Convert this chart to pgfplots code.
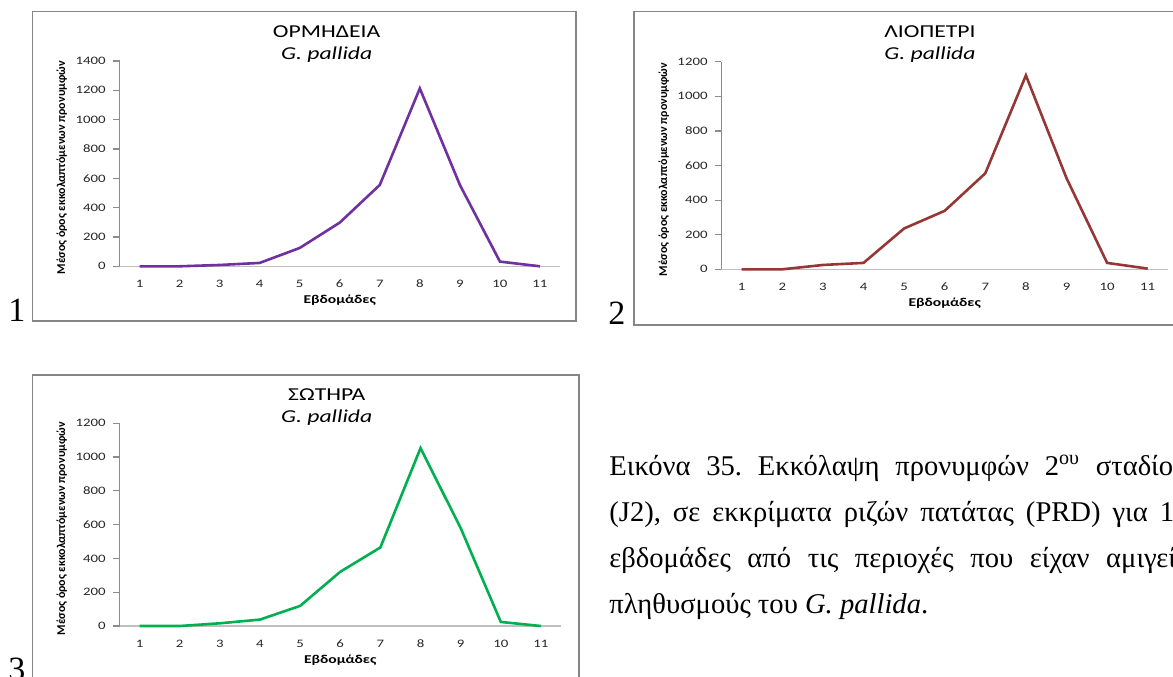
\documentclass[border=0pt]{standalone}
\usepackage{fontspec}
\setmainfont{Liberation Serif}
\newfontfamily\chartfont[FakeStretch=1.3]{Carlito}
\newfontfamily\chartfontns{Carlito}
\usepackage{pgfplots}
\pgfplotsset{compat=1.18}
\frenchspacing
\definecolor{framegray}{HTML}{868686}
\definecolor{ygray}{HTML}{8C8C8C}
\definecolor{xgray}{HTML}{BFBFBF}
\definecolor{cpurple}{HTML}{7030A0}
\definecolor{cred}{HTML}{953735}
\definecolor{cgreen}{HTML}{00B050}
\pgfplotsset{excel/.style={
  scale only axis, anchor=south west,
  xmin=0.5, xmax=11.5, ymin=0,
  axis x line*=bottom, axis y line*=left,
  x axis line style={draw=xgray, line width=0.6pt},
  y axis line style={draw=ygray, line width=0.6pt},
  xtick={1,...,11},
  xtick style={draw=none},
  ytick style={draw=ygray, line width=0.6pt},
  tick align=outside, major tick length=3.4pt,
  ticklabel style={font=\chartfont\fontsize{5.7}{6}\selectfont, text=black!85},
  /pgf/number format/assume math mode=true,
  /pgf/number format/set thousands separator={},
  xlabel={Εβδομάδες},
  ylabel={Μέσος όρος εκκολαπτόμενων προνυμφών},
  every axis x label/.style={at={(axis description cs:0.5,0)}, anchor=center, yshift=-17pt, font=\chartfont\bfseries\fontsize{6}{7}\selectfont},
  every axis y label/.style={at={(axis description cs:0,0.5)}, xshift=-28.85pt, yshift=-2pt, anchor=center, rotate=90, font=\chartfontns\bfseries\fontsize{6}{7}\selectfont},
  clip=false,
}}
\begin{document}
\begin{tikzpicture}
\useasboundingbox (0,0) rectangle (586.5pt,338pt);
\clip (0,0) rectangle (586.5pt,338pt);
% frames
\draw[framegray, line width=0.75pt] (16.35pt,177.5pt) rectangle (288pt,332.15pt);
\draw[framegray, line width=0.75pt] (317pt,175.5pt) rectangle (600pt,332.15pt);
\draw[framegray, line width=0.75pt] (16.35pt,-10pt) rectangle (289.4pt,150.5pt);
% panel numbers
\node[anchor=base west, inner sep=0, font=\fontsize{17}{20}\selectfont] at (4pt,177.5pt) {1};
\node[anchor=base west, inner sep=0, font=\fontsize{17}{20}\selectfont] at (304pt,175.5pt) {2};
\node[anchor=base west, inner sep=0, font=\fontsize{17}{20}\selectfont] at (4pt,-2pt) {3};
% titles
\node[font=\chartfont\fontsize{9.1}{10}\selectfont, anchor=base, inner sep=0] at (163.35pt,319.15pt) {ΟΡΜΗΔΕΙΑ};
\node[font=\chartfont\itshape\fontsize{9.1}{10}\selectfont, anchor=base, inner sep=0] at (163.35pt,308.35pt) {G. pallida};
\node[font=\chartfont\fontsize{9.1}{10}\selectfont, anchor=base, inner sep=0] at (465pt,319.15pt) {ΛΙΟΠΕΤΡΙ};
\node[font=\chartfont\itshape\fontsize{9.1}{10}\selectfont, anchor=base, inner sep=0] at (465pt,308.35pt) {G. pallida};
\node[font=\chartfont\fontsize{9.1}{10}\selectfont, anchor=base, inner sep=0] at (163.35pt,138pt) {ΣΩΤΗΡΑ};
\node[font=\chartfont\itshape\fontsize{9.1}{10}\selectfont, anchor=base, inner sep=0] at (163.35pt,126.85pt) {G. pallida};
% chart 1
\begin{axis}[excel, at={(59.75pt,204.85pt)}, width=220.25pt, height=102.65pt,
  ymax=1400, ytick={0,200,...,1400}]
\addplot[cpurple, line width=1.3pt] coordinates {
 (1,0) (2,0) (3,9) (4,23) (5,125) (6,298) (7,555) (8,1213) (9,555) (10,32) (11,0)};
\end{axis}
% chart 2
\begin{axis}[excel, at={(360.7pt,203.35pt)}, width=223.3pt, height=103.8pt,
  ymax=1200, ytick={0,200,...,1200}]
\addplot[cred, line width=1.3pt] coordinates {
 (1,0) (2,0) (3,25) (4,37) (5,236) (6,338) (7,555) (8,1121) (9,527) (10,37) (11,4)};
\end{axis}
% chart 3
\begin{axis}[excel, at={(59.75pt,25pt)}, width=220.75pt, height=101.35pt,
  ymax=1200, ytick={0,200,...,1200}]
\addplot[cgreen, line width=1.3pt] coordinates {
 (1,0) (2,0) (3,16) (4,38) (5,119) (6,321) (7,465) (8,1053) (9,580) (10,24) (11,0)};
\end{axis}
% caption
\node[anchor=base west, inner sep=0, font=\fontsize{14.3}{16}\selectfont] at (304.5pt,100.5pt) {\makebox[289pt][s]{Εικόνα 35. Εκκόλαψη προνυμφών 2\textsuperscript{ου} σταδίου}};
\node[anchor=base west, inner sep=0, font=\fontsize{14.3}{16}\selectfont] at (304.5pt,77.5pt) {\makebox[289pt][s]{(J2), σε εκκρίματα ριζών πατάτας (PRD) για 11}};
\node[anchor=base west, inner sep=0, font=\fontsize{14.3}{16}\selectfont] at (304.5pt,54.5pt) {\makebox[289pt][s]{εβδομάδες από τις περιοχές που είχαν αμιγείς}};
\node[anchor=base west, inner sep=0, font=\fontsize{14.3}{16}\selectfont] at (304.5pt,31.5pt) {πληθυσμούς του \textit{G. pallida}.};
\end{tikzpicture}
\end{document}
